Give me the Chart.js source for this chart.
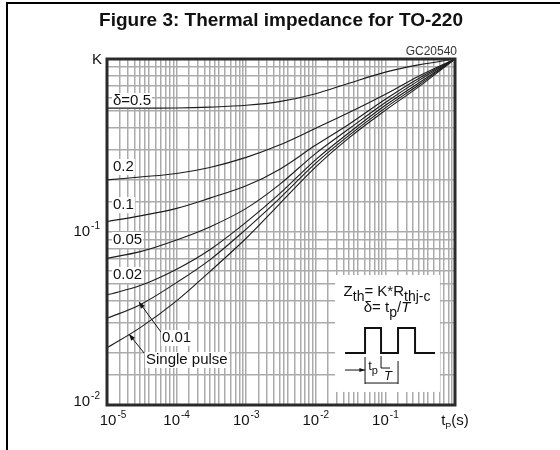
<!DOCTYPE html>
<html>
<head>
<meta charset="utf-8">
<title>Figure 3: Thermal impedance for TO-220</title>
<script src="https://cdn.jsdelivr.net/npm/chart.js@4"></script>
<style>
  body { margin: 0; background: #fff; }
  #wrap { position: relative; width: 560px; height: 450px; }
  #wrap canvas { position: absolute; left: 0; top: 0; }
  #frame { position: absolute; left: 6px; top: 2px; right: 0; bottom: 0;
           border-top: 2px solid #000; border-left: 2px solid #000; pointer-events: none; }
</style>
</head>
<body>
<div id="wrap">
  <canvas id="chart" width="560" height="450"></canvas>
  <div id="frame"></div>
</div>
<script>
const FONT = '"Liberation Sans", Arial, sans-serif';

// pulse duration tp (s)
const tp = [1e-5, 3e-5, 1e-4, 3e-4, 1e-3, 3e-3, 1e-2, 3e-2, 1e-1, 3e-1, 1];

// K = Zth / Rthj-c, one array per duty cycle
const kDelta05 = [0.52, 0.52, 0.521, 0.527, 0.54, 0.567, 0.63, 0.725, 0.84, 0.925, 1];
const kDelta02 = [0.20, 0.208, 0.218, 0.236, 0.27, 0.318, 0.398, 0.49, 0.625, 0.795, 1];
const kDelta01 = [0.115, 0.124, 0.137, 0.157, 0.185, 0.23, 0.318, 0.42, 0.585, 0.772, 1];
const kDelta005 = [0.0705, 0.077, 0.09, 0.107, 0.137, 0.188, 0.285, 0.395, 0.56, 0.75, 1];
const kDelta002 = [0.0433, 0.049, 0.061, 0.079, 0.114, 0.166, 0.262, 0.375, 0.54, 0.727, 1];
const kDelta001 = [0.0317, 0.038, 0.051, 0.069, 0.104, 0.156, 0.25, 0.362, 0.522, 0.708, 1];
const kSingle = [0.0214, 0.028, 0.040, 0.059, 0.092, 0.145, 0.238, 0.35, 0.505, 0.69, 1];

const seriesNames = ['δ=0.5', '0.2', '0.1', '0.05', '0.02', '0.01', 'Single pulse'];
const seriesK = [kDelta05, kDelta02, kDelta01, kDelta005, kDelta002, kDelta001, kSingle];

// tick labels (10 to the power of ...)
const xTickValues = [1e-5, 1e-4, 1e-3, 1e-2, 1e-1];
const xTickExps = ['-5', '-4', '-3', '-2', '-1'];
const yTickValues = [1e-2, 1e-1];
const yTickExps = ['-2', '-1'];

// grid lines inside each decade
const xGridSteps = [1, 1.5, 2, 2.5, 3, 3.5, 4, 5, 6, 7, 8, 9];
const yGridSteps = [1, 1.5, 2, 3, 4, 5, 6, 7, 8, 9];

// curve labels, placed in data units
const curveLabels = [
  { text: 'δ=0.5', t: 1.22e-5, k: 0.572 },
  { text: '0.2', t: 1.22e-5, k: 0.2375 },
  { text: '0.1', t: 1.22e-5, k: 0.143 },
  { text: '0.05', t: 1.22e-5, k: 0.0899 },
  { text: '0.02', t: 1.22e-5, k: 0.0564 },
  { text: '0.01', t: 6.17e-5, k: 0.0244 },
  { text: 'Single pulse', t: 3.63e-5, k: 0.0182 },
];
const pointers = [
  { from: [5.97e-5, 0.0264], to: [2.88e-5, 0.0394] },
  { from: [3.4e-5, 0.0200], to: [2.07e-5, 0.0257] },
];
const insetBox = { tLeft: 0.0189, tRight: 0.608, kTop: 0.0564, kBottom: 0.0119 };

function gridValues(min, max, steps) {
  const out = [];
  const e0 = Math.round(Math.log10(min));
  const e1 = Math.round(Math.log10(max));
  for (let e = e0; e <= e1; e++) {
    steps.forEach(s => {
      const v = s * Math.pow(10, e);
      if (v <= max * 1.0001) out.push(v);
    });
  }
  return out;
}

function drawPower(ctx, x, y, exp, align) {
  ctx.font = `15px ${FONT}`;
  const wb = ctx.measureText('10').width;
  ctx.font = `10px ${FONT}`;
  const we = ctx.measureText(exp).width;
  const left = align === 'right' ? x - wb - we - 1 : x - (wb + we + 1) / 2;
  ctx.textAlign = 'left';
  ctx.textBaseline = 'middle';
  ctx.font = `15px ${FONT}`;
  ctx.fillText('10', left, y);
  ctx.font = `10px ${FONT}`;
  ctx.fillText(exp, left + wb + 1, y - 6);
}

// parts: [text, size, dy, italic]
function drawRich(ctx, parts, cx, y) {
  let w = 0;
  parts.forEach(p => {
    ctx.font = `${p[3] ? 'italic ' : ''}${p[1]}px ${FONT}`;
    w += ctx.measureText(p[0]).width;
  });
  let x = cx - w / 2;
  ctx.textAlign = 'left';
  ctx.textBaseline = 'middle';
  parts.forEach(p => {
    ctx.font = `${p[3] ? 'italic ' : ''}${p[1]}px ${FONT}`;
    ctx.fillText(p[0], x, y + p[2]);
    x += ctx.measureText(p[0]).width;
  });
}

function arrow(ctx, x1, y1, x2, y2, size) {
  const a = Math.atan2(y2 - y1, x2 - x1);
  ctx.beginPath();
  ctx.moveTo(x1, y1);
  ctx.lineTo(x2, y2);
  ctx.stroke();
  ctx.beginPath();
  ctx.moveTo(x2, y2);
  ctx.lineTo(x2 - size * Math.cos(a - 0.35), y2 - size * Math.sin(a - 0.35));
  ctx.lineTo(x2 - size * Math.cos(a + 0.35), y2 - size * Math.sin(a + 0.35));
  ctx.closePath();
  ctx.fill();
}

const drawings = {
  id: 'drawings',
  beforeDatasetsDraw(chart) {
    const { ctx, scales: { x, y } } = chart;
    ctx.save();
    ctx.fillStyle = '#fff';
    // inset box hides the grid
    const bx = x.getPixelForValue(insetBox.tLeft);
    const by = y.getPixelForValue(insetBox.kTop);
    ctx.fillRect(bx, by, x.getPixelForValue(insetBox.tRight) - bx, y.getPixelForValue(insetBox.kBottom) - by);
    // white patches behind curve labels
    ctx.font = `15px ${FONT}`;
    curveLabels.forEach(l => {
      const w = ctx.measureText(l.text).width;
      ctx.fillRect(x.getPixelForValue(l.t) - 1, y.getPixelForValue(l.k) - 8, w + 2, 16);
    });
    ctx.restore();
  },
  afterDraw(chart) {
    const { ctx, chartArea: a, scales: { x, y } } = chart;
    ctx.save();
    ctx.fillStyle = '#111';
    ctx.strokeStyle = '#111';

    // title
    ctx.font = `bold 19px ${FONT}`;
    ctx.textAlign = 'center';
    ctx.textBaseline = 'middle';
    ctx.fillText('Figure 3: Thermal impedance for TO-220', 281, 21);

    // frame of the plot
    ctx.strokeStyle = '#2a2a2a';
    ctx.lineWidth = 3;
    ctx.strokeRect(a.left, a.top, a.right - a.left, a.bottom - a.top);

    // axis labels
    ctx.fillStyle = '#111';
    ctx.strokeStyle = '#111';
    ctx.font = `15px ${FONT}`;
    ctx.textAlign = 'right';
    ctx.fillText('K', a.left - 5, a.top + 1);
    ctx.font = `12px ${FONT}`;
    ctx.fillStyle = '#333';
    ctx.textBaseline = 'alphabetic';
    ctx.fillText('GC20540', a.right + 2, a.top - 4);
    ctx.fillStyle = '#111';

    xTickValues.forEach((v, i) => {
      drawPower(ctx, x.getPixelForValue(v) + (i === 0 ? 6 : 0), a.bottom + 16, xTickExps[i], 'center');
    });
    yTickValues.forEach((v, i) => {
      drawPower(ctx, a.left - 7, Math.min(y.getPixelForValue(v), a.bottom - 3), yTickExps[i], 'right');
    });
    drawRich(ctx, [['t', 15, 0], ['P', 9, 6], ['(s)', 15, 0]], a.right, a.bottom + 16);

    // curve labels and pointers
    ctx.font = `15px ${FONT}`;
    ctx.textAlign = 'left';
    ctx.textBaseline = 'middle';
    curveLabels.forEach(l => {
      ctx.fillText(l.text, x.getPixelForValue(l.t), y.getPixelForValue(l.k));
    });
    ctx.lineWidth = 1;
    pointers.forEach(p => {
      arrow(ctx, x.getPixelForValue(p.from[0]), y.getPixelForValue(p.from[1]),
        x.getPixelForValue(p.to[0]), y.getPixelForValue(p.to[1]), 7);
    });

    // inset: formula and pulse train
    const bx = x.getPixelForValue(insetBox.tLeft);
    const by = y.getPixelForValue(insetBox.kTop);
    drawRich(ctx, [['Z', 15, 0], ['th', 14, 5], ['= K*R', 15, 0], ['thj-c', 14, 5]], bx + 52, by + 17);
    drawRich(ctx, [['δ= t', 15, 0], ['p', 14, 5], ['/', 15, 0], ['T', 15, 0, true]], bx + 52, by + 33);

    ctx.lineWidth = 2;
    ctx.beginPath();
    ctx.moveTo(bx + 10, by + 78);
    ctx.lineTo(bx + 30, by + 78);
    ctx.lineTo(bx + 30, by + 53);
    ctx.lineTo(bx + 46, by + 53);
    ctx.lineTo(bx + 46, by + 78);
    ctx.lineTo(bx + 63, by + 78);
    ctx.lineTo(bx + 63, by + 53);
    ctx.lineTo(bx + 80, by + 53);
    ctx.lineTo(bx + 80, by + 78);
    ctx.lineTo(bx + 100, by + 78);
    ctx.stroke();

    ctx.lineWidth = 1;
    arrow(ctx, bx + 10, by + 95, bx + 30, by + 95, 6);
    ctx.beginPath();
    ctx.moveTo(bx + 30, by + 82); ctx.lineTo(bx + 30, by + 109);
    ctx.moveTo(bx + 63, by + 86); ctx.lineTo(bx + 63, by + 109);
    ctx.moveTo(bx + 30, by + 108); ctx.lineTo(bx + 63, by + 108);
    ctx.moveTo(bx + 46, by + 81); ctx.lineTo(bx + 46, by + 93);
    ctx.moveTo(bx + 46, by + 93); ctx.lineTo(bx + 55, by + 93);
    ctx.stroke();
    drawRich(ctx, [['t', 13, 0], ['p', 11, 5]], bx + 38, by + 91);
    drawRich(ctx, [['T', 13, 0, true]], bx + 53, by + 101);

    ctx.restore();
  }
};

const ctx = document.querySelector('#chart').getContext('2d');

const config = {
  type: 'line',
  data: {
    datasets: seriesK.map((k, i) => ({
      label: seriesNames[i],
      data: tp.map((t, j) => ({ x: t, y: k[j] })),
      borderColor: '#1c1c1c',
      borderWidth: 1.1,
      pointRadius: 0,
      fill: false,
      tension: 0.35,
    })),
  },
  options: {
    responsive: false,
    animation: false,
    layout: { padding: { left: 107, top: 59, right: 105, bottom: 45 } },
    plugins: { legend: { display: false }, tooltip: { enabled: false } },
    scales: {
      x: {
        type: 'logarithmic',
        min: 1e-5,
        max: 1,
        ticks: { display: false },
        grid: { color: '#ababab', lineWidth: 1.5, drawTicks: false },
        border: { display: false },
        afterBuildTicks: s => { s.ticks = gridValues(1e-5, 1, xGridSteps).map(v => ({ value: v })); },
      },
      y: {
        type: 'logarithmic',
        min: 0.01,
        max: 1,
        ticks: { display: false },
        grid: { color: '#ababab', lineWidth: 1.5, drawTicks: false },
        border: { display: false },
        afterBuildTicks: s => { s.ticks = gridValues(0.01, 1, yGridSteps).map(v => ({ value: v })); },
      },
    },
  },
  plugins: [drawings],
};

const chart = new Chart(ctx, config);
</script>
</body>
</html>
